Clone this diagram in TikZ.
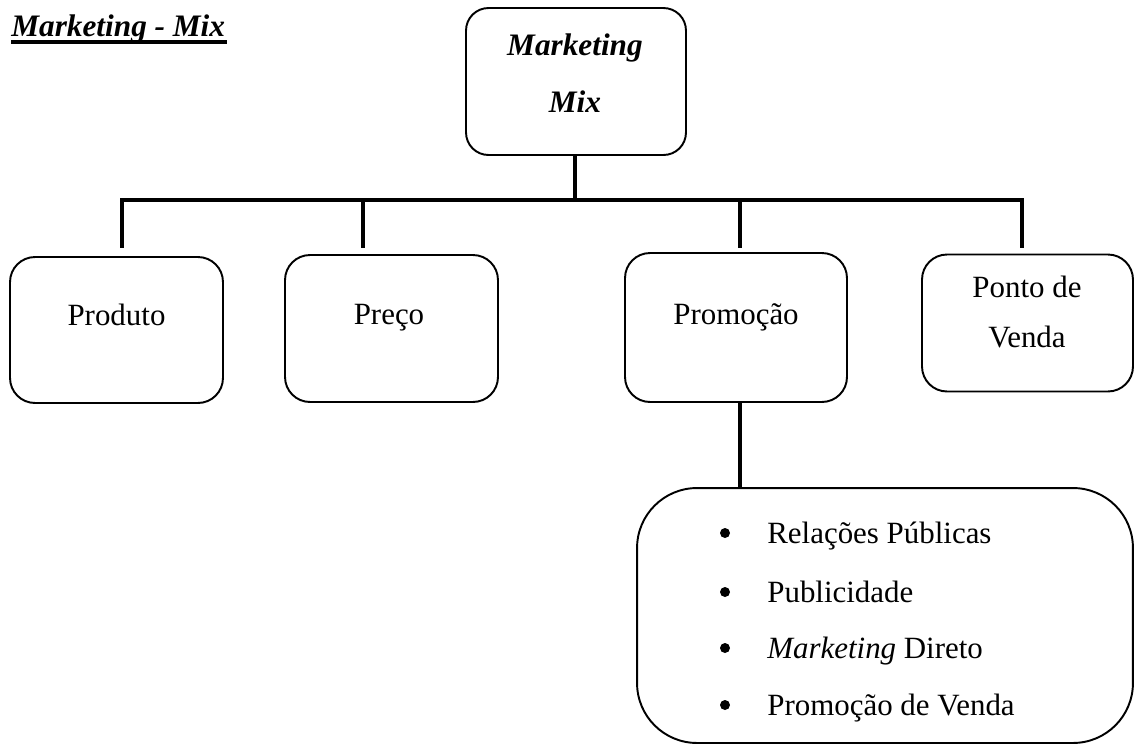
\documentclass[tikz,border=0pt]{standalone}
\usepackage{fontspec}
\setmainfont{Liberation Serif}
\usetikzlibrary{calc}
\begin{document}
\begin{tikzpicture}[x=0.02cm,y=-0.02cm,
  box/.style={draw,line width=1.1pt,rounded corners=0.5cm,inner sep=0pt},
  lbl/.style={inner sep=0pt,anchor=base,font=\fontsize{17.6}{21}\selectfont},
  item/.style={inner sep=0pt,anchor=base west,font=\fontsize{17.6}{21}\selectfont},
  dot/.style={circle,fill=black,inner sep=0pt,minimum size=0.2cm},
  bus/.style={line width=2.4pt},
  drop/.style={line width=2.2pt}]
\useasboundingbox (0,0) rectangle (1134,745);
% title
\node[inner sep=0pt,anchor=base west,font=\fontsize{17.8}{21}\selectfont\bfseries\itshape] (title) at (11,36) {Marketing - Mix};
\draw[line width=2pt] ($(title.base west)+(0,6)$) -- ($(title.base east)+(2,6)$);
% boxes
\node[box,minimum width=4.4cm,minimum height=2.94cm,rounded corners=0.45cm] (mm) at (576,81.5) {};
\node[lbl,font=\fontsize{17.8}{21}\selectfont\bfseries\itshape] at (575,55) {Marketing};
\node[lbl,font=\fontsize{17.8}{21}\selectfont\bfseries\itshape] at (575,112) {Mix};
\node[box,minimum width=4.26cm,minimum height=2.92cm] (prod) at (116.5,330) {};
\node[lbl] at (116.5,325) {Produto};
\node[box,minimum width=4.26cm,minimum height=2.94cm] (preco) at (391.5,328.5) {};
\node[lbl] at (389,324) {Preço};
\node[box,minimum width=4.44cm,minimum height=2.98cm] (promo) at (736,327.5) {};
\node[lbl] at (736,324) {Promoção};
\node[box,minimum width=4.22cm,minimum height=2.74cm] (ponto) at (1027.5,323) {};
\node[lbl] at (1027,297) {Ponto de};
\node[lbl] at (1027,347) {Venda};
\node[box,minimum width=9.92cm,minimum height=5.1cm,rounded corners=1.2cm] (list) at (885,615.5) {};
% list
\foreach \y/\t [count=\i] in {543/{Relações Públicas},602/{Publicidade},658/{\textit{Marketing} Direto},715/{Promoção de Venda}}{
  \node[dot] (bul\i) at (725,\y-10) {};
  \node[item] (it\i) at (767,\y) {\t};
}
% connectors
\coordinate (bL) at (122,200);
\coordinate (bR) at (1022,200);
\coordinate (bT) at (575,200);
\coordinate (b2) at (363,200);
\coordinate (b3) at (740,200);
\coordinate (e1) at (122,248);
\coordinate (e2) at (363,248);
\coordinate (e3) at (740,248);
\coordinate (e4) at (1022,248);
\draw[line width=1.8pt] (mm.south -| bT) -- (bT);
\draw[bus] ([xshift=-0.04cm]bL) -- ([xshift=0.04cm]bR);
\draw[drop] (bL) -- (e1);
\draw[drop] (b2) -- (e2);
\draw[drop] (b3) -- (e3);
\draw[drop] (bR) -- (e4);
\draw[drop] (promo.south -| b3) -- (list.north -| b3);
\end{tikzpicture}
\end{document}
